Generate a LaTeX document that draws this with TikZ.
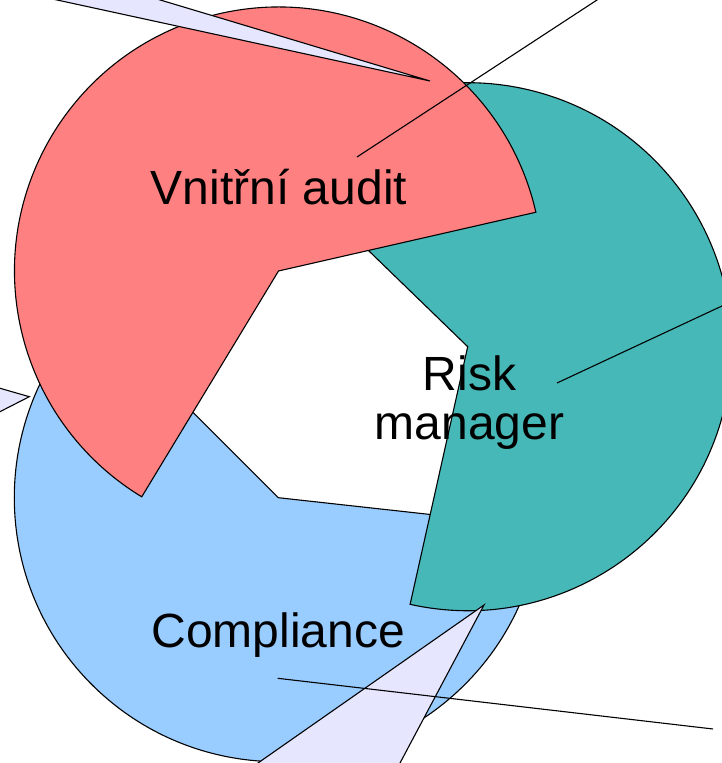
\documentclass[tikz,border=0pt]{standalone}
\usepackage{fontspec}
\setmainfont{Liberation Sans}
\definecolor{auditred}{RGB}{255,128,128}
\definecolor{riskteal}{RGB}{71,184,184}
\definecolor{complblue}{RGB}{153,204,255}
\definecolor{lavender}{RGB}{230,230,255}

\begin{document}
\begin{tikzpicture}[x=1pt,y=1pt,line width=1.1pt,
  sector/.style={draw=black,line join=miter},
  callout/.style={fill=lavender,draw=black},
  txt/.style={font=\fontsize{48}{49.5}\selectfont,inner sep=0pt,align=center}]

\useasboundingbox (0,0) rectangle (722,763);
\clip (0,0) rectangle (722,763);

%% centres of the three pieces
\coordinate (audit c) at (278.5,492);
\coordinate (risk c) at (467.7,416.3);
\coordinate (compl c) at (278.3,265.3);

%% pieces
\filldraw [sector,fill=complblue] (compl c) -- ++(135:264pt) arc (135:353.7:264pt) -- cycle;
\filldraw [sector,fill=riskteal] (risk c) -- ++(-102.6:264pt) arc (-102.6:135.9:264pt) -- cycle;
\filldraw [sector,fill=auditred] (audit c) -- ++(12.86:264pt) arc (12.86:238.8:264pt) -- cycle;

%% callouts
% top left
\coordinate (tip a) at (430,682);
\filldraw [callout] (tip a) -- (11,773) -- (127,773) -- cycle;
% left
\coordinate (tip b) at (29.3,366.3);
\filldraw [callout] (tip b) -- (-10,377.6) -- (-10,346.2) -- cycle;
% bottom
\coordinate (tip c) at (484,158);
\filldraw [callout] (tip c) -- (243.7,-10) -- (394.7,-10) -- cycle;

%% pointer lines
\coordinate (end a) at (621,778.7);
\coordinate (end b) at (744,467.3);
\coordinate (end c) at (713,34);
\draw (357,606) -- (end a);
\draw (557,380) -- (end b);
\draw (277.7,84.7) -- (end c);

%% labels
\node [txt,anchor=base] (audit) at (279,558) {Vnitřní audit};
\node [txt,anchor=base] (risk) at (469.5,323) {Risk\\manager};
\node [txt,anchor=base] (compl) at (278.3,115) {Compliance};

\end{tikzpicture}
\end{document}
